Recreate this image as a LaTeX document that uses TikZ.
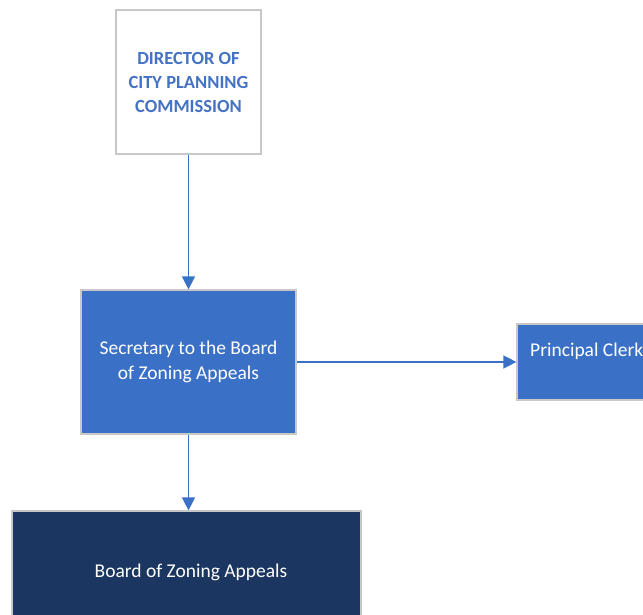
\documentclass[tikz,border=0pt]{standalone}
\usepackage{fontspec}
\setmainfont{Carlito}
\usetikzlibrary{arrows.meta}
\definecolor{midblue}{RGB}{58,112,198}
\definecolor{navy}{RGB}{27,54,96}
\definecolor{frame}{RGB}{200,200,200}
\definecolor{titleblue}{RGB}{68,114,196}
\tikzset{
  box/.style={draw=frame, line width=1.2pt, rectangle, inner sep=0pt},
  linkarrow/.style={draw=midblue, line width=1.4pt, -{Triangle[width=13pt,length=13pt]}},
  whitetext/.style={text=white, font=\fontsize{19.5}{25}\selectfont, align=center}
}
\begin{document}
\begin{tikzpicture}[x=1pt,y=-1pt]
  \useasboundingbox (0,0) rectangle (643,615);
  \clip (0,0) rectangle (643,615);
  % director box
  \node[box, fill=white, minimum width=145pt, minimum height=144pt,
        text=titleblue, font=\bfseries\fontsize{18.5}{24}\selectfont, align=center]
        (dir) at (188.5,82) {DIRECTOR OF\\CITY PLANNING\\COMMISSION};
  % secretary box
  \node[box, fill=midblue, minimum width=215pt, minimum height=144pt, whitetext]
        (sec) at (188.5,362) {Secretary to the Board\\of Zoning Appeals};
  % principal clerk box, running past the right edge
  \node[box, fill=midblue, minimum width=150pt, minimum height=76pt]
        (clerk) at (592,362) {};
  \node[whitetext, anchor=west, inner sep=0pt] (clerktext) at (530,351) {Principal Clerk};
  % board box, running past the bottom edge
  \node[box, fill=navy, minimum width=349pt, minimum height=122pt]
        (board) at (186.5,572) {};
  \node[whitetext] (boardtext) at (191,572) {Board of Zoning Appeals};
  % connectors
  \draw[linkarrow] (dir.south) -- (sec.north);
  \draw[linkarrow] (sec.east) -- (clerk.west);
  \draw[linkarrow] (sec.south) -- (sec.south |- board.north);
\end{tikzpicture}
\end{document}
